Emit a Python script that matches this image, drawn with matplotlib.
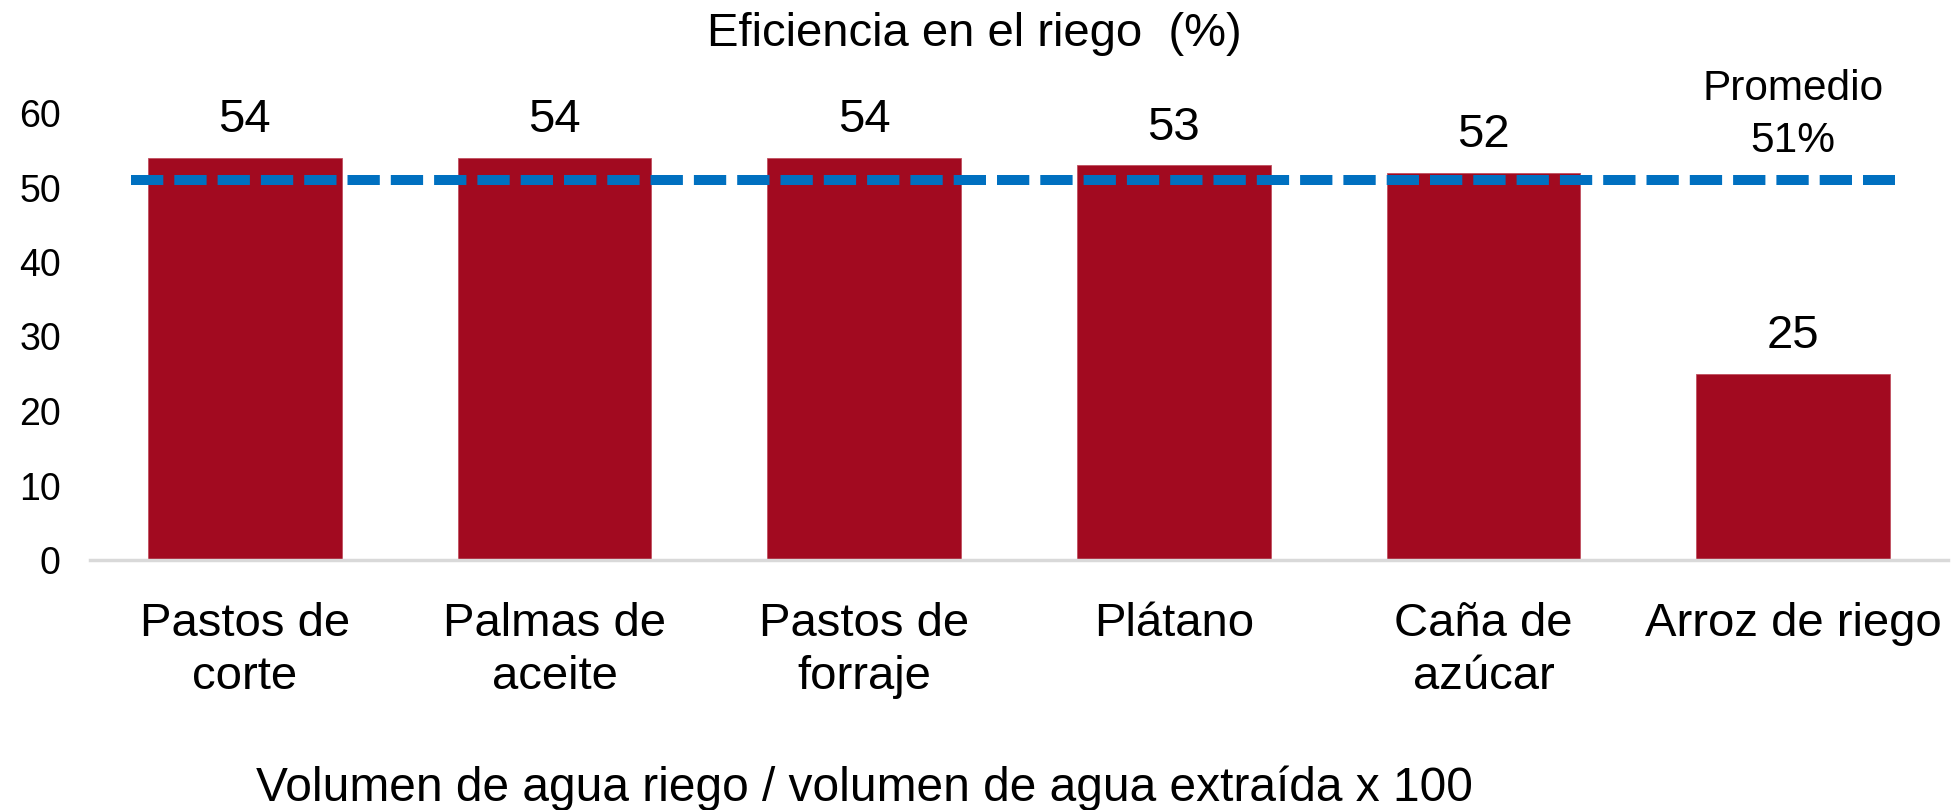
import matplotlib
matplotlib.use("Agg")
import matplotlib.pyplot as plt

categories = ["Pastos de\ncorte", "Palmas de\naceite", "Pastos de\nforraje", "Plátano", "Caña de\nazúcar", "Arroz de riego"]
values = [54, 54, 54, 53, 52, 25]
promedio = 51
yticks = [0, 10, 20, 30, 40, 50, 60]

plt.rcParams['font.family'] = ['Liberation Sans', 'DejaVu Sans']

fig = plt.figure(figsize=(19.56, 8.1), dpi=100)
ax = fig.add_axes([90/1956, 1-560/810, (1948-90)/1956, (560-113)/810])

x = list(range(len(categories)))
ax.bar(x, values, width=0.626, color="#A20A20", edgecolor="#C05060", linewidth=0.6, zorder=2)
for xi, v in zip(x, values):
    ax.annotate(f"{v}", (xi, v), xytext=(0, 11), textcoords="offset points",
                ha="center", va="bottom", fontsize=34)

ax.hlines(promedio, -0.368, 5.33, colors="#0070C0", linewidth=7.2,
          linestyles=(0, (3.23, 1.10)), zorder=3, capstyle="butt")
ax.text(5.0, promedio + 2.5, f"Promedio\n{promedio}%", ha="center", va="bottom",
        fontsize=30.5, linespacing=1.4)

ax.set_xlim(-0.5, len(categories) - 0.5)
ax.set_ylim(0, 60)
ax.set_yticks(yticks)
ax.set_yticklabels([str(t) for t in yticks], fontsize=27)
ax.set_xticks(x)
ax.set_xticklabels(categories, fontsize=34, linespacing=1.27)
ax.tick_params(axis='y', length=0, pad=21)
ax.tick_params(axis='x', length=0, pad=30)
for s in ["top", "right", "left"]:
    ax.spines[s].set_visible(False)
ax.spines["bottom"].set_color("#D9D9D9")
ax.spines["bottom"].set_linewidth(2.5)

fig.text(974/1956, 1-34/810, "Eficiencia en el riego  (%)", ha="center", va="center", fontsize=34)
fig.text(864/1956, 1-788/810, "Volumen de agua riego / volumen de agua extraída x 100",
         ha="center", va="center", fontsize=34.5)

fig.savefig("out.png", dpi=100)
